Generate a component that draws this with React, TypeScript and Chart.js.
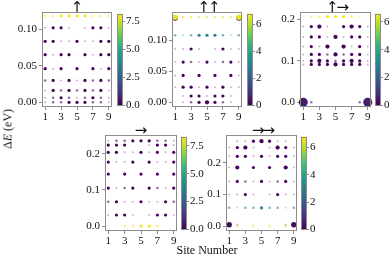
import React, { useEffect, useRef } from "react";
import { Chart, registerables } from "chart.js";
Chart.register(...registerables);

// ---------- data ----------
const SITES = [1, 2, 3, 4, 5, 6, 7, 8, 9];
const X_TICKS = [1, 3, 5, 7, 9];

// Panel "↑"
const P1_E = [0.118, 0.1017, 0.0833, 0.065, 0.0459, 0.0299, 0.0162, 0.0062, 0.0];
const P1_C = [8.1, 0.15, 0.1, 0.1, 0.1, 0.1, 0.1, 0.1, 0.1];
const P1_W = [
  [2, 2, 3, 3, 3, 3, 2, 2, 2],
  [1, 3, 3, 1, 0, 1, 3, 3, 1],
  [3, 3, 1, 1, 3, 1, 1, 3, 3],
  [3, 1, 3, 3, 0, 3, 1, 3, 3],
  [3, 1, 3, 0, 3, 0, 3, 1, 3],
  [2, 3, 1, 3, 1, 3, 2, 3, 2],
  [1, 3, 2, 3, 2, 3, 2, 3, 1],
  [1, 2, 3, 2, 1, 2, 3, 2, 1],
  [1, 2, 2, 3, 3, 3, 2, 2, 1],
];
const P1_YTICKS = [0, 0.05, 0.1];
const P1_CTICKS = [0, 2.5, 5, 7.5];

// Panel "↑↑"
const P2_E = [0.1375, 0.1362, 0.1084, 0.0862, 0.0651, 0.0435, 0.0244, 0.0102, 0.0];
const P2_C = [6.6, 0.2, 3.1, 0.1, 0.1, 0.1, 0.1, 0.1, 0.1];
const P2_W = [
  [5, 2, 2, 2, 2, 2, 2, 2, 5],
  [5, 0, 0, 0, 0, 0, 0, 0, 5],
  [2, 1, 2, 3, 3, 3, 2, 1, 2],
  [1, 1, 3, 1, 0, 1, 3, 1, 1],
  [1, 3, 2, 1, 3, 1, 2, 3, 1],
  [1, 3, 0, 3, 0, 3, 0, 3, 1],
  [1, 3, 3, 1, 3, 1, 3, 1, 1],
  [0, 1, 3, 3, 1, 3, 3, 1, 0],
  [0, 1, 2, 3, 4, 3, 2, 1, 0],
];
const P2_YTICKS = [0, 0.05, 0.1];
const P2_CTICKS = [0, 2, 4, 6];

// Panel "↑→"
const P3_E = [0.206, 0.182, 0.157, 0.134, 0.115, 0.0995, 0.091, 0.0];
const P3_C = [6.5, 0.1, 0.1, 0.1, 0.1, 0.1, 0.1, 0.5];
const P3_W = [
  [1, 2, 2, 3, 3, 3, 2, 1, 1],
  [1, 3, 4, 1, 0, 3, 4, 3, 1],
  [1, 3, 3, 1, 4, 1, 3, 3, 1],
  [1, 3, 1, 4, 0, 4, 1, 3, 1],
  [1, 3, 3, 2, 4, 2, 3, 3, 1],
  [1, 3, 4, 3, 2, 3, 4, 3, 1],
  [1, 3, 3, 3, 4, 3, 3, 3, 1],
  [6, 2, 0, 0, 0, 0, 0, 2, 6],
];
const P3_YTICKS = [0, 0.1, 0.2];
const P3_CTICKS = [0, 2, 4, 6];

// Panel "→"
const P4_E = [0.2356, 0.2238, 0.2039, 0.1768, 0.1436, 0.105, 0.0671, 0.0304, 0.0];
const P4_C = [0.1, 0.1, 0.1, 0.1, 0.1, 0.1, 0.1, 0.1, 8.2];
const P4_W = [
  [1, 2, 2, 3, 3, 3, 2, 2, 1],
  [3, 3, 3, 0, 0, 1, 3, 3, 1],
  [3, 3, 1, 1, 3, 1, 3, 1, 3],
  [3, 1, 1, 3, 0, 3, 1, 1, 3],
  [3, 0, 3, 0, 3, 0, 3, 0, 3],
  [3, 1, 2, 3, 0, 3, 2, 1, 3],
  [2, 3, 1, 1, 3, 1, 1, 3, 2],
  [1, 3, 3, 1, 0, 1, 3, 3, 1],
  [1, 1, 2, 2, 3, 3, 2, 1, 1],
];
const P4_YTICKS = [0, 0.1, 0.2];
const P4_CTICKS = [0, 2.5, 5, 7.5];

// Panel "→→"
const P5_E = [0.269, 0.2486, 0.2208, 0.1855, 0.1413, 0.0997, 0.0577, 0.004, 0.0];
const P5_C = [0.1, 0.1, 0.1, 0.1, 0.1, 0.1, 3.0, 0.2, 6.6];
const P5_W = [
  [0, 1, 1, 3, 4, 3, 1, 1, 0],
  [1, 3, 4, 1, 0, 1, 4, 3, 1],
  [1, 3, 3, 1, 3, 1, 3, 3, 1],
  [1, 4, 0, 3, 0, 3, 0, 4, 1],
  [1, 3, 2, 1, 3, 1, 2, 3, 1],
  [1, 1, 3, 1, 0, 1, 3, 1, 1],
  [2, 1, 2, 2, 3, 2, 2, 1, 2],
  [5, 1, 0, 0, 0, 0, 0, 1, 5],
  [2, 2, 1, 2, 1, 2, 1, 2, 2],
];
const P5_YTICKS = [0, 0.1, 0.2];
const P5_CTICKS = [0, 2, 4, 6];

// ---------- styling helpers ----------
const VIRIDIS = ["#440154", "#482878", "#3e4989", "#31688e", "#26828e", "#1f9e89", "#35b779", "#6ece58", "#b5de2b", "#fde725"];
const RADIUS = [0, 1.0, 1.25, 1.6, 2.1, 2.7, 4.5];
const ALPHA = [0, 0.3, 0.6, 1, 1, 1, 1];
const TICK_FONT = { family: "'Liberation Serif', serif", size: 11 };
const FRAME = "#8c8c8c";

function rgb(h: string) {
  return [parseInt(h.slice(1, 3), 16), parseInt(h.slice(3, 5), 16), parseInt(h.slice(5, 7), 16)];
}
function viridis(t: number, a = 1) {
  t = Math.max(0, Math.min(1, t));
  const p = t * 9;
  const i = Math.min(8, Math.floor(p));
  const f = p - i;
  const c0 = rgb(VIRIDIS[i]);
  const c1 = rgb(VIRIDIS[i + 1]);
  const c = c0.map((v, k) => Math.round(v + (c1[k] - v) * f));
  return `rgba(${c[0]},${c[1]},${c[2]},${a})`;
}

const framePlugin = {
  id: "frame",
  afterDatasetsDraw(chart: any) {
    const a = chart.chartArea;
    const ctx = chart.ctx;
    ctx.save();
    ctx.strokeStyle = FRAME;
    ctx.lineWidth = 1;
    ctx.strokeRect(Math.round(a.left) + 0.5, Math.round(a.top) + 0.5, Math.round(a.right - a.left) - 1, Math.round(a.bottom - a.top) - 1);
    ctx.restore();
  },
};

type PanelProps = {
  L: number; T: number; R: number; B: number;
  title: string;
  E: number[]; C: number[]; W: number[][];
  yMin: number; yMax: number; yTicks: number[]; yDec: number;
  cMax: number;
};

function Panel(p: PanelProps) {
  const ref = useRef<HTMLCanvasElement>(null);
  const AXW = 42, AXH = 20, PT = 12, PR = 6;
  const W = p.R - p.L + AXW + PR;
  const H = p.B - p.T + PT + AXH;
  useEffect(() => {
    const datasets = p.E.map((e, r) => {
      const pts: any[] = [];
      const rad: number[] = [];
      const col: string[] = [];
      SITES.forEach((s, i) => {
        const w = p.W[r][i];
        if (w > 0) {
          pts.push({ x: s, y: e });
          rad.push(RADIUS[w]);
          col.push(viridis(p.C[r] / p.cMax, ALPHA[w]));
        }
      });
      return {
        data: pts,
        pointRadius: rad,
        backgroundColor: col,
        pointBackgroundColor: col,
        pointBorderWidth: 0,
        borderWidth: 0,
        showLine: false,
        clip: false as any,
        order: r,
      };
    });
    const title = p.title;
    const chart = new Chart(ref.current!, {
      type: "scatter",
      data: { datasets },
      options: {
        animation: false,
        responsive: false,
        devicePixelRatio: 1,
        layout: { padding: { top: PT, right: PR, left: 0, bottom: 0 } },
        plugins: { legend: { display: false }, tooltip: { enabled: false } },
        scales: {
          x: {
            type: "linear",
            min: 0.6,
            max: 9.4,
            afterBuildTicks: (s: any) => { s.ticks = X_TICKS.map((v) => ({ value: v })); },
            afterFit: (s: any) => { s.height = AXH; },
            ticks: { font: TICK_FONT, color: "#111", padding: 1, maxRotation: 0, autoSkip: false, callback: (v: any) => String(v) },
            grid: { drawOnChartArea: false, drawTicks: true, tickLength: 3, color: FRAME },
            border: { display: false },
          },
          y: {
            type: "linear",
            min: p.yMin,
            max: p.yMax,
            afterBuildTicks: (s: any) => { s.ticks = p.yTicks.map((v) => ({ value: v })); },
            afterFit: (s: any) => { s.width = AXW; },
            ticks: { font: TICK_FONT, color: "#111", padding: 2, autoSkip: false, callback: (v: any) => Number(v).toFixed(p.yDec) },
            grid: { drawOnChartArea: false, drawTicks: true, tickLength: 3, color: FRAME },
            border: { display: false },
          },
        },
      },
      plugins: [
        framePlugin,
        {
          id: "arrowTitle",
          afterDraw(chart: any) {
            const a = chart.chartArea;
            const ctx = chart.ctx;
            ctx.save();
            ctx.fillStyle = "#111";
            ctx.font = "15px 'DejaVu Sans'";
            (ctx as any).letterSpacing = title.length > 1 ? "-2px" : "0px";
            ctx.textAlign = "center";
            ctx.textBaseline = "alphabetic";
            ctx.fillText(title, (a.left + a.right) / 2 - (title.length > 1 ? -1 : 0), a.top - 0.5);
            ctx.restore();
          },
        },
      ],
    });
    return () => chart.destroy();
  }, []);
  return (
    <canvas
      ref={ref}
      width={W}
      height={H}
      style={{ position: "absolute", left: p.L - AXW, top: p.T - PT, width: W, height: H }}
    />
  );
}

type CBProps = { L: number; T: number; R: number; B: number; cMax: number; ticks: number[]; dec: number };

function ColorBar(p: CBProps) {
  const ref = useRef<HTMLCanvasElement>(null);
  const AXW = 24, PAD = 6;
  const W = p.R - p.L + 1 + AXW;
  const H = p.B - p.T + PAD * 2;
  useEffect(() => {
    const chart = new Chart(ref.current!, {
      type: "bar",
      data: {
        labels: [""],
        datasets: [
          {
            data: [p.cMax],
            borderWidth: 0,
            barPercentage: 1,
            categoryPercentage: 1,
            backgroundColor: (ctx: any) => {
              const a = ctx.chart.chartArea;
              if (!a) return VIRIDIS[0];
              const g = ctx.chart.ctx.createLinearGradient(0, a.bottom, 0, a.top);
              VIRIDIS.forEach((c, i) => g.addColorStop(i / 9, c));
              return g;
            },
          },
        ],
      },
      options: {
        animation: false,
        responsive: false,
        devicePixelRatio: 1,
        layout: { padding: { top: PAD, bottom: PAD, left: 1, right: 0 } },
        plugins: { legend: { display: false }, tooltip: { enabled: false } },
        scales: {
          x: { display: false },
          y: {
            position: "right",
            min: 0,
            max: p.cMax,
            afterBuildTicks: (s: any) => { s.ticks = p.ticks.map((v) => ({ value: v })); },
            afterFit: (s: any) => { s.width = AXW; },
            ticks: { font: TICK_FONT, color: "#111", padding: 1, autoSkip: false, callback: (v: any) => Number(v).toFixed(p.dec) },
            grid: { drawOnChartArea: false, drawTicks: true, tickLength: 2, color: FRAME },
            border: { display: false },
          },
        },
      },
      plugins: [framePlugin],
    });
    return () => chart.destroy();
  }, []);
  return (
    <canvas
      ref={ref}
      width={W}
      height={H}
      style={{ position: "absolute", left: p.L - 1, top: p.T - PAD, width: W, height: H }}
    />
  );
}

export default function App() {
  return (
    <div style={{ position: "absolute", left: 0, top: 0, width: 390, height: 257, background: "#fff", overflow: "hidden" }}>
      <Panel L={42} T={12} R={112} B={107} title="↑" E={P1_E} C={P1_C} W={P1_W} yMin={-0.0064} yMax={0.1233} yTicks={P1_YTICKS} yDec={2} cMax={8.17} />
      <ColorBar L={117} T={12} R={123} B={107} cMax={8.17} ticks={P1_CTICKS} dec={1} />
      <Panel L={172} T={12} R={242} B={107} title="↑↑" E={P2_E} C={P2_C} W={P2_W} yMin={-0.0076} yMax={0.146} yTicks={P2_YTICKS} yDec={2} cMax={6.8} />
      <ColorBar L={247} T={12} R={253} B={107} cMax={6.8} ticks={P2_CTICKS} dec={0} />
      <Panel L={300} T={12} R={371} B={107} title="↑→" E={P3_E} C={P3_C} W={P3_W} yMin={-0.0113} yMax={0.217} yTicks={P3_YTICKS} yDec={1} cMax={6.6} />
      <ColorBar L={375} T={12} R={381} B={107} cMax={6.6} ticks={P3_CTICKS} dec={0} />
      <Panel L={105} T={135} R={177} B={231} title="→" E={P4_E} C={P4_C} W={P4_W} yMin={-0.0138} yMax={0.2517} yTicks={P4_YTICKS} yDec={1} cMax={8.34} />
      <ColorBar L={181} T={135} R={187} B={231} cMax={8.34} ticks={P4_CTICKS} dec={1} />
      <Panel L={226} T={135} R={297} B={231} title="→→" E={P5_E} C={P5_C} W={P5_W} yMin={-0.0158} yMax={0.2885} yTicks={P5_YTICKS} yDec={1} cMax={6.8} />
      <ColorBar L={301} T={135} R={307} B={231} cMax={6.8} ticks={P5_CTICKS} dec={0} />
      <div
        style={{
          position: "absolute",
          left: 8,
          top: 129,
          transform: "translate(-50%, -50%) rotate(-90deg)",
          font: "12px 'Liberation Serif', serif",
          color: "#111",
          whiteSpace: "nowrap",
        }}
      >
        Δ<i>E</i> (eV)
      </div>
      <div
        style={{
          position: "absolute",
          left: 207,
          top: 243,
          transform: "translateX(-50%)",
          font: "12px 'Liberation Serif', serif",
          lineHeight: "14px",
          color: "#111",
          whiteSpace: "nowrap",
        }}
      >
        Site Number
      </div>
    </div>
  );
}
